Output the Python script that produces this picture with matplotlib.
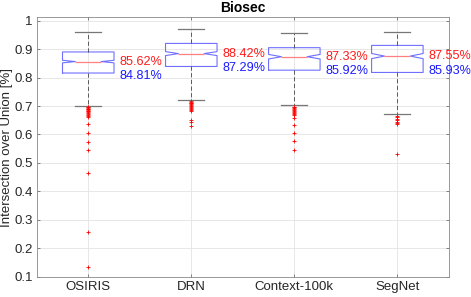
import matplotlib
matplotlib.use('Agg')
import matplotlib.pyplot as plt
from matplotlib.ticker import FuncFormatter

plt.rcParams['font.family'] = ['Liberation Sans', 'DejaVu Sans']

# Data (IoU values)
methods = ['OSIRIS', 'DRN', 'Context-100k', 'SegNet']
medians = [0.8562, 0.8842, 0.8733, 0.8755]
means = [0.8481, 0.8729, 0.8592, 0.8593]
q1 = [0.816, 0.839, 0.826, 0.818]
q3 = [0.890, 0.920, 0.905, 0.913]
whis_lo = [0.700, 0.721, 0.704, 0.673]
whis_hi = [0.959, 0.970, 0.955, 0.959]
notch_half = [0.0045, 0.007, 0.008, 0.009]
fliers = [
    [0.698, 0.695, 0.692, 0.690, 0.688, 0.686, 0.684, 0.681, 0.678, 0.675,
     0.672, 0.668, 0.665, 0.660, 0.637, 0.606, 0.572, 0.546, 0.465, 0.257, 0.135],
    [0.718, 0.715, 0.712, 0.709, 0.706, 0.703, 0.700, 0.697, 0.694, 0.690,
     0.686, 0.681, 0.652, 0.645, 0.629],
    [0.698, 0.695, 0.692, 0.689, 0.686, 0.683, 0.680, 0.676, 0.672, 0.668,
     0.657, 0.634, 0.606, 0.576, 0.546],
    [0.665, 0.660, 0.655, 0.650, 0.645, 0.640, 0.636, 0.531],
]

stats = []
for i, name in enumerate(methods):
    stats.append(dict(label=name, med=medians[i], q1=q1[i], q3=q3[i],
                      whislo=whis_lo[i], whishi=whis_hi[i], fliers=fliers[i],
                      cilo=medians[i] - notch_half[i], cihi=medians[i] + notch_half[i]))

fig = plt.figure(figsize=(4.71, 2.97), dpi=100)
ax = fig.add_axes([0.078, 0.068, 0.875, 0.874])

positions = [1, 2, 3, 4]
ax.bxp(stats, positions=positions, widths=0.5, capwidths=0.25, shownotches=True,
       boxprops=dict(color='#7070ff', linewidth=0.8),
       medianprops=dict(color='#ff8080', linewidth=0.9),
       whiskerprops=dict(color='#444444', linewidth=0.6, linestyle=(0, (5, 3))),
       capprops=dict(color='#777777', linewidth=0.9),
       flierprops=dict(marker='+', markeredgecolor='red', markersize=2.6,
                       markeredgewidth=0.6, linestyle='none'))

for i, x in enumerate(positions):
    ax.text(x + 0.3, medians[i], '%.2f%%' % (medians[i] * 100), color='#ff1a1a',
            fontsize=9.1, ha='left', va='center', clip_on=False)
    ax.text(x + 0.3, medians[i] - 0.051, '%.2f%%' % (means[i] * 100), color='#1a1aff',
            fontsize=9.1, ha='left', va='center', clip_on=False)

ax.set_xlim(0.5, 4.5)
ax.set_ylim(0.1, 1.012)
ax.set_yticks([0.1, 0.2, 0.3, 0.4, 0.5, 0.6, 0.7, 0.8, 0.9, 1.0])
ax.yaxis.set_major_formatter(FuncFormatter(lambda v, p: '%g' % round(v, 2)))
ax.set_xticks(positions)
ax.set_xticklabels(methods)
ax.grid(True, color='#e3e3e3', linewidth=0.6)
ax.set_axisbelow(True)
ax.tick_params(direction='in', length=2.5, width=0.5, colors='#555555',
               labelcolor='#262626', labelsize=9.5, top=True, right=True, pad=3)
for s in ax.spines.values():
    s.set_color('#888888')
    s.set_linewidth(0.6)

ax.set_ylabel('Intersection over Union [%]', fontsize=9.5, color='#262626', labelpad=1)
ax.set_title('Biosec', fontsize=10, fontweight='bold', pad=4)

fig.savefig('out.png', dpi=100)
